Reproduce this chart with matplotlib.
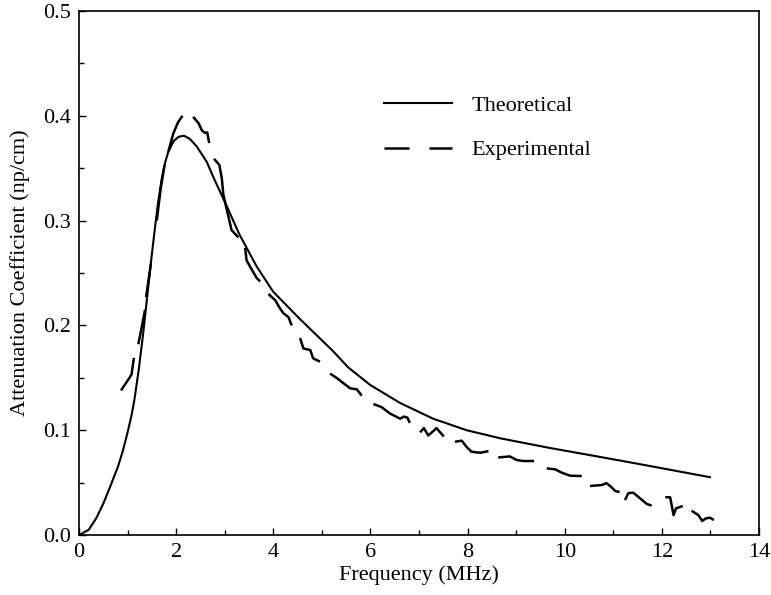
import numpy as np
import matplotlib
matplotlib.use("Agg")
import matplotlib.pyplot as plt
from matplotlib.lines import Line2D

plt.rcParams['font.family'] = ['Liberation Serif', 'DejaVu Serif']

# Theoretical curve
theo_x = [0, 0.2, 0.36, 0.5, 0.64, 0.8, 0.9, 1.0, 1.08, 1.14, 1.23, 1.32, 1.40, 1.48, 1.56,
          1.63, 1.70, 1.77, 1.84, 1.95, 2.05, 2.16, 2.28, 2.42, 2.63, 2.77, 3.04, 3.3, 3.66,
          4.0, 4.55, 5.24, 5.54, 6.0, 6.61, 7.29, 7.98, 8.67, 9.70, 10.73, 11.5, 12.2, 13.01]
theo_y = [0, 0.005, 0.0165, 0.030, 0.046, 0.065, 0.080, 0.098, 0.114, 0.129, 0.158, 0.192,
          0.226, 0.260, 0.292, 0.318, 0.339, 0.355, 0.366, 0.376, 0.380, 0.381, 0.378, 0.371,
          0.356, 0.341, 0.314, 0.287, 0.256, 0.232, 0.206, 0.175, 0.160, 0.143, 0.126, 0.111,
          0.100, 0.0923, 0.083, 0.0745, 0.068, 0.062, 0.055]

# Experimental curve (None marks gaps between drawn pieces)
exp_x = [0.865, 0.98, 1.08, 1.13, None,
         1.22, 1.29, 1.36, None,
         1.38, 1.48, None,
         1.60, 1.68, 1.76, None,
         1.84, 1.94, 2.04, 2.13, None,
         2.35, 2.46, 2.53, 2.58, 2.64, 2.68, None,
         2.78, 2.89, 2.94, 2.97, 3.03, 3.14, 3.28, None,
         3.42, 3.45, 3.56, 3.66, 3.73, None,
         3.90, 4.04, 4.14, 4.21, 4.31, 4.38, None,
         4.55, 4.62, 4.76, 4.82, 4.96, None,
         5.17, 5.30, 5.44, 5.58, 5.72, 5.82, None,
         6.06, 6.23, 6.40, 6.61, 6.69, 6.76, 6.81, None,
         7.02, 7.10, 7.19, 7.29, 7.36, 7.51, None,
         7.74, 7.88, 7.98, 8.08, 8.26, 8.43, None,
         8.63, 8.87, 9.01, 9.15, 9.37, None,
         9.63, 9.80, 9.94, 10.11, 10.35, None,
         10.52, 10.76, 10.86, 10.95, 11.04, 11.13, None,
         11.24, 11.31, 11.41, 11.55, 11.69, 11.79, None,
         12.07, 12.17, 12.24, 12.29, 12.43, None,
         12.61, 12.75, 12.83, 12.91, 12.99, 13.07]
exp_y = [0.138, 0.146, 0.153, 0.169, None,
         0.182, 0.198, 0.215, None,
         0.227, 0.259, None,
         0.300, 0.330, 0.353, None,
         0.366, 0.383, 0.394, 0.400, None,
         0.399, 0.393, 0.386, 0.384, 0.384, 0.374, None,
         0.359, 0.353, 0.340, 0.325, 0.313, 0.291, 0.284, None,
         0.274, 0.262, 0.253, 0.245, 0.242, None,
         0.230, 0.224, 0.216, 0.2115, 0.208, 0.200, None,
         0.188, 0.178, 0.1765, 0.1686, 0.1654, None,
         0.154, 0.150, 0.145, 0.140, 0.139, 0.133, None,
         0.125, 0.122, 0.116, 0.111, 0.113, 0.112, 0.107, None,
         0.098, 0.102, 0.095, 0.099, 0.102, 0.094, None,
         0.089, 0.090, 0.084, 0.0795, 0.0785, 0.080, None,
         0.074, 0.075, 0.0716, 0.0706, 0.0706, None,
         0.0636, 0.0627, 0.0595, 0.0566, 0.0563, None,
         0.0468, 0.0477, 0.0495, 0.0461, 0.042, 0.041, None,
         0.0334, 0.040, 0.0404, 0.035, 0.0296, 0.028, None,
         0.036, 0.036, 0.019, 0.0254, 0.0277, None,
         0.0232, 0.019, 0.0134, 0.016, 0.0165, 0.0143]

x_ticks = [0, 2, 4, 6, 8, 10, 12, 14]
y_ticks = [0.0, 0.1, 0.2, 0.3, 0.4, 0.5]

ex = np.array([np.nan if v is None else v for v in exp_x], dtype=float)
ey = np.array([np.nan if v is None else v for v in exp_y], dtype=float)

FS = 16

fig = plt.figure(figsize=(7.71, 5.95), dpi=100)
ax = fig.add_axes([0.1025, 0.1008, 0.882, 0.8807])

ax.plot(theo_x, theo_y, color='black', lw=1.5, solid_capstyle='butt', solid_joinstyle='round')
ax.plot(ex, ey, color='black', lw=1.8, solid_capstyle='butt', solid_joinstyle='round')

ax.set_xlim(0, 14)
ax.set_ylim(0, 0.5)
ax.set_xticks(x_ticks)
ax.set_xticklabels([str(t) for t in x_ticks])
ax.set_yticks(y_ticks)
ax.set_yticklabels([f"{t:.1f}" for t in y_ticks])
ax.set_xticks(np.arange(1, 14, 2), minor=True)
ax.set_yticks([0.05, 0.15, 0.25, 0.35, 0.45], minor=True)
ax.tick_params(which='major', direction='in', length=5, width=1, labelsize=FS, pad=6)
ax.tick_params(which='minor', direction='in', length=3.5, width=1)
for s in ax.spines.values():
    s.set_linewidth(1.2)

ax.set_xlabel('Frequency (MHz)', fontsize=FS, labelpad=2)
ax.set_ylabel('Attenuation Coefficient (np/cm)', fontsize=FS, labelpad=9)

handles = [Line2D([], [], color='black', lw=1.5),
           Line2D([], [], color='black', lw=1.8, dashes=(10, 8))]
leg = ax.legend(handles, ['Theoretical', 'Experimental'], loc='upper left',
                bbox_to_anchor=(0.449, 0.839), frameon=False, fontsize=FS,
                handlelength=3.06, handletextpad=0.85, labelspacing=1.08, borderpad=0,
                borderaxespad=0)

fig.savefig('out.png', dpi=100)
